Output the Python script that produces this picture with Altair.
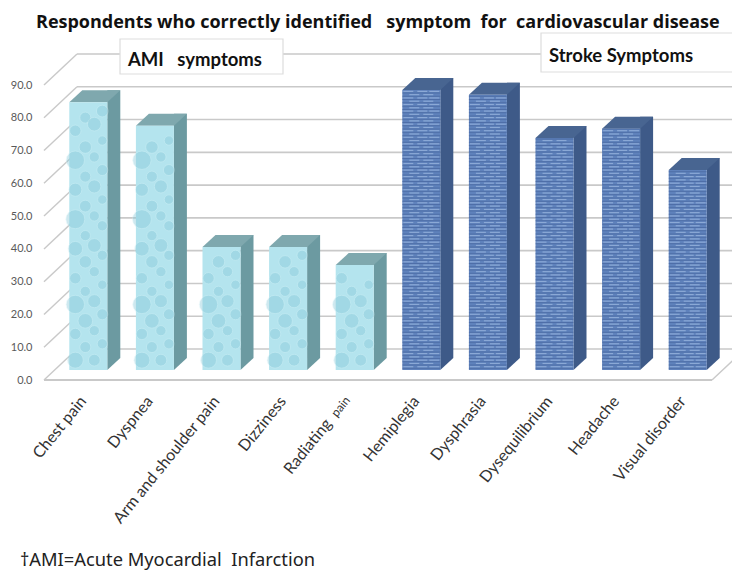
import altair as alt
import pandas as pd

categories = ["Chest pain", "Dyspnea", "Arm and shoulder pain", "Dizziness", "Radiating pain",
              "Hemiplegia", "Dysphrasia", "Dysequilibrium", "Headache", "Visual disorder"]
values = [81.7, 74.5, 37.5, 37.5, 32.0, 85.4, 84.0, 70.8, 73.6, 61.0]
groups = ["AMI"] * 5 + ["Stroke"] * 5
ticks = [0, 10, 20, 30, 40, 50, 60, 70, 80, 90]
back_shift = 9.46
drop_cols = {
    -13: [(3, 60), (11, 30), (20, 80), (28, 30), (37, 50), (46, 85), (55, 40), (64, 80), (73, 30)],
    -3: [(7, 28), (15, 50), (24, 24), (33, 36), (41, 24), (50, 32), (59, 28), (68, 36), (77, 28)],
    6: [(3, 32), (12, 24), (21, 40), (30, 24), (38, 44), (47, 24), (56, 40), (65, 24), (75, 44)],
    14: [(8, 24), (17, 28), (26, 20), (35, 24), (44, 24), (52, 20), (61, 28), (70, 20), (79, 32)],
}
stripe_levels = [x / 2 for x in range(1, 172, 2)]
brick_a = [x / 2 for x in range(2, 172, 4)]
brick_b = [x / 2 for x in range(4, 172, 4)]

P_L, P_T, W, H = 47, 77, 666, 295
BAR_LIFT = -10
D = 13
DY = 12
BW = 38

df = pd.DataFrame({"cat": categories, "v": values, "g": groups})
df["zero"] = 0
x = alt.X("cat:N", sort=categories, scale=alt.Scale(paddingInner=0, paddingOuter=0, round=False),
          axis=alt.Axis(title=None, labelAngle=-51, labelAlign="right", labelBaseline="middle",
                        labelFont="Lato", labelFontSize=16, labelColor="#333333", labelPadding=18,
                        labelOffset=-5, ticks=False, domain=False, grid=False,
                        labelExpr="datum.label == 'Radiating pain' ? '' : datum.label"))
yscale = alt.Scale(domain=[0, 90], nice=False)
y_axis = alt.Axis(title=None, values=ticks, format=".1f", labelFont="Lato", labelFontSize=11,
                  labelColor="#595959", labelPadding=23, ticks=False, domain=False, grid=False)


def Y(field):
    return alt.Y(field, scale=yscale, axis=y_axis)


y_plain = Y("v:Q")

grid = pd.DataFrame({"lvl": ticks})
grid["back"] = grid["lvl"] + back_shift
GRID = "#c9c9c9"
layers = []
layers.append(alt.Chart(grid).mark_rule(color=GRID, strokeWidth=1.4).encode(
    y=Y("lvl:Q"), y2="back:Q",
    x=alt.value(44 - 8 - P_L), x2=alt.value(77 - 8 - P_L)))
layers.append(alt.Chart(grid).mark_rule(color=GRID, strokeWidth=1.6).encode(
    y=Y("back:Q"),
    x=alt.value(77 - 8 - P_L), x2=alt.value(740 - 8 - P_L)))
floor = grid[grid.lvl == 0]
layers.append(alt.Chart(floor).mark_rule(color=GRID, strokeWidth=2).encode(
    y=Y("lvl:Q"),
    x=alt.value(44 - 8 - P_L), x2=alt.value(712 - 8 - P_L)))
layers.append(alt.Chart(floor).mark_rule(color=GRID, strokeWidth=1.4).encode(
    y=Y("lvl:Q"), y2="back:Q",
    x=alt.value(712 - 8 - P_L), x2=alt.value(745 - 8 - P_L)))

top_path = f"M{-BW/2},0L{BW/2},0L{BW/2+D},{-DY}L{-BW/2+D},{-DY}Z"
foot_path = f"M{BW/2},0L{BW/2},{-DY}L{BW/2+D},{-DY}Z"

styles = {
    "AMI": dict(front="#B4E4EE", side="#6C9AA1", top="#7FA8AE"),
    "Stroke": dict(front="#5F82BC", side="#3E5A88", top="#486591"),
}
for g, s in styles.items():
    d = df[df.g == g]
    base = alt.Chart(d)
    layers.append(base.mark_bar(size=D, color=s["side"], xOffset=BW / 2 + D / 2,
                                yOffset=BAR_LIFT - DY, y2Offset=BAR_LIFT - DY).encode(
        x=x, y=y_plain, y2="zero:Q"))
    layers.append(base.mark_point(shape=foot_path, size=4, filled=True, opacity=1, color=s["side"],
                                  strokeWidth=0, yOffset=BAR_LIFT).encode(
        x=x, y=Y("zero:Q")))
    layers.append(base.mark_point(shape=top_path, size=4, filled=True, opacity=1, color=s["top"],
                                  strokeWidth=0, yOffset=BAR_LIFT).encode(x=x, y=y_plain))
    layers.append(base.mark_bar(size=BW, color=s["front"], yOffset=BAR_LIFT, y2Offset=BAR_LIFT).encode(
        x=x, y=y_plain, y2="zero:Q"))

# droplet texture on the AMI bars
ami = df[df.g == "AMI"]
for dx, drops in drop_cols.items():
    rows = [{"cat": c, "lvl": l, "s": sz} for c, v in zip(ami.cat, ami.v) for l, sz in drops if l < v - 2]
    layers.append(alt.Chart(pd.DataFrame(rows)).mark_point(
        shape="circle", filled=True, color="#86C8D8", opacity=0.4, stroke="#DDF6FA", strokeWidth=0.7,
        xOffset=dx, yOffset=BAR_LIFT).encode(
        x=x, y=Y("lvl:Q"),
        size=alt.Size("s:Q", scale=alt.Scale(type="identity"), legend=None)))

# woven texture on the stroke bars
strk = df[df.g == "Stroke"]
rows = [{"cat": c, "lvl": l} for c, v in zip(strk.cat, strk.v) for l in stripe_levels if l < v]
layers.append(alt.Chart(pd.DataFrame(rows)).mark_tick(
    orient="horizontal", size=BW, thickness=1, color="#3F5F98", opacity=0.55, yOffset=BAR_LIFT).encode(
    x=x, y=Y("lvl:Q")))
for lv, dxs in ((brick_a, (-13, 1, 13)), (brick_b, (-7, 7))):
    rows = [{"cat": c, "lvl": l} for c, v in zip(strk.cat, strk.v) for l in lv if l < v]
    for dx in dxs:
        layers.append(alt.Chart(pd.DataFrame(rows)).mark_tick(
            orient="horizontal", size=10, thickness=1.2, color="#A9C3E8", opacity=0.6,
            xOffset=dx, yOffset=BAR_LIFT).encode(
            x=x, y=Y("lvl:Q")))


def box(x0, x1, y0, y1):
    return alt.Chart(floor).mark_rect(fill="white", stroke="#dddddd", strokeWidth=1.2).encode(
        x=alt.value(x0 - 8 - P_L), x2=alt.value(x1 - 8 - P_L),
        y=alt.value(y0 - 8 - P_T), y2=alt.value(y1 - 8 - P_T))


def note(txt, px, py, size, bold=True, font="Lato", color="#111111"):
    return alt.Chart(pd.DataFrame({"t": [txt]})).mark_text(
        align="left", baseline="middle", font=font, fontSize=size, fontWeight="bold" if bold else "normal",
        color=color).encode(text="t:N", x=alt.value(px - 8 - P_L), y=alt.value(py - 8 - P_T))


layers.append(box(120, 283, 39, 74))
layers.append(box(541, 745, 33, 72))
layers.append(note("AMI\u00a0\u00a0 symptoms", 128, 60, 18.5))
layers.append(note("Stroke Symptoms", 549, 56, 18.5))
layers.append(note("Respondents who correctly identified\u00a0\u00a0 symptom\u00a0 for\u00a0 cardiovascular disease", 36, 22.5, 18, font="Open Sans"))
layers.append(note("\u2020AMI=Acute Myocardial\u00a0 Infarction", 20, 561, 18.3, bold=False, font="Noto Sans", color="#222222"))

rad = pd.DataFrame({"cat": ["Radiating pain"], "zero": [0]})
layers.append(alt.Chart(rad.assign(t="Radiating")).mark_text(
    angle=309, align="right", baseline="middle", font="Lato", fontSize=16, color="#333333",
    xOffset=-26, yOffset=41).encode(x=x, y=Y("zero:Q"), text="t:N"))
layers.append(alt.Chart(rad.assign(t="pain")).mark_text(
    angle=309, align="right", baseline="middle", font="Lato", fontSize=12, color="#333333",
    xOffset=-7, yOffset=18).encode(x=x, y=Y("zero:Q"), text="t:N"))

chart = alt.layer(*layers).resolve_scale(y="shared").properties(
    width=W, height=H,
    padding={"left": P_L, "top": P_T, "right": 724 - P_L - W, "bottom": 564 - P_T - H},
    autosize=alt.AutoSizeParams(type="none"),
).configure_view(stroke=None)

chart.save("out.html", embed_options={"renderer": "svg", "actions": False})
